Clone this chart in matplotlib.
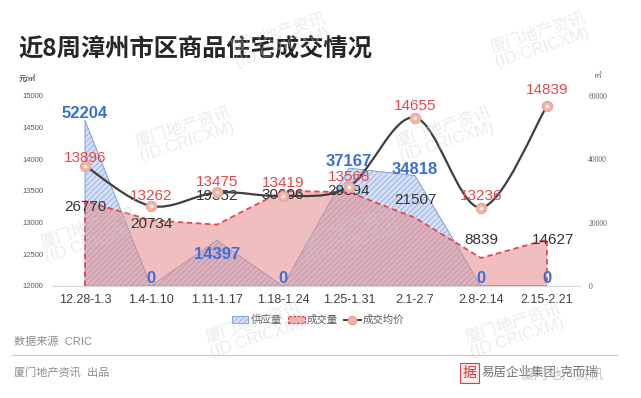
import numpy as np
import matplotlib
matplotlib.use("Agg")
import matplotlib.pyplot as plt
from matplotlib.path import Path
from matplotlib.patches import PathPatch, Patch, Rectangle
from matplotlib.lines import Line2D

plt.rcParams['font.family'] = ['Liberation Sans', 'Noto Sans CJK SC', 'DejaVu Sans']
plt.rcParams['hatch.linewidth'] = 0.4

# data
weeks = ['12.28-1.3', '1.4-1.10', '1.11-1.17', '1.18-1.24',
         '1.25-1.31', '2.1-2.7', '2.8-2.14', '2.15-2.21']
supply = [52204, 0, 14397, 0, 37167, 34818, 0, 0]
volume = [26770, 20734, 19352, 30006, 29594, 21507, 8839, 14627]
price = [13896, 13262, 13475, 13419, 13568, 14655, 13236, 14839]

# label nudges in pixels (positive = up)
supply_dy = [2, 3, -19, 3, 2, 2, 3, 3]
volume_dy = [-6, -4, 29, -4, 1, 18, 18, 0]
volume_dx = [0, 0, 0, 0, 0, 0, 0, 6]
price_dy = [4, 6, 6, 9, 6, 8, 8, 12]

PX = 0.72  # points per pixel at dpi 100

blue = '#3b6fd4'
red = '#e8484a'
grey_txt = '#595959'

fig = plt.figure(figsize=(6.41, 3.98), dpi=100)

ax2 = fig.add_axes([52 / 641, 1 - 286 / 398, 528 / 641, 190.3 / 398])
ax = ax2.twinx()
ax2.patch.set_visible(False)
ax.patch.set_visible(False)

x = np.arange(len(weeks))

# areas on the right axis
ax2.fill_between(x, supply, 0, facecolor='#d5e0f5', edgecolor='#6f95dc',
                 hatch='//////', linewidth=0.6, zorder=2)
ax2.fill_between(x, volume, 0, facecolor='#e58a8a', alpha=0.55, linewidth=0, zorder=3)
ax2.plot(np.r_[x[0], x, x[-1]], np.r_[0, volume, 0], color=red, lw=1.3,
         ls=(0, (3, 2)), zorder=4)

# smooth price line on the left axis (Bezier through the points)
p = np.column_stack([x, price]).astype(float)
verts = [tuple(p[0])]
codes = [Path.MOVETO]
n = len(p)
for i in range(n - 1):
    pm = p[i - 1] if i > 0 else p[i]
    pn = p[i + 2] if i + 2 < n else p[i + 1]
    c1 = p[i] + (p[i + 1] - pm) / 6
    c2 = p[i + 1] - (pn - p[i]) / 6
    verts += [tuple(c1), tuple(c2), tuple(p[i + 1])]
    codes += [Path.CURVE4] * 3
ax.add_patch(PathPatch(Path(verts, codes), facecolor='none', edgecolor='#3f3f3f',
                       lw=1.6, zorder=5))
ax.plot(x, price, ls='none', marker='o', ms=7.4, mfc='#efb5a6', mec='#e7a393',
        mew=0.8, zorder=6)
ax.plot(x, price, ls='none', marker='o', ms=2.4, mfc='white', mec='none', zorder=7)

ax.set_ylim(12000, 15000)
ax2.set_ylim(0, 60000)
ax.set_xlim(-0.5, 7.5)
ax2.set_xlim(-0.5, 7.5)

# data labels
for i in range(n):
    ax2.annotate(f'{supply[i]}', (x[i], supply[i]), xytext=(0, supply_dy[i] * PX),
                 textcoords='offset points', ha='center', va='baseline',
                 fontsize=12, fontweight='bold', color=blue, zorder=8)
    ax2.annotate(f'{volume[i]}', (x[i], volume[i]),
                 xytext=(volume_dx[i] * PX, volume_dy[i] * PX),
                 textcoords='offset points', ha='center', va='center',
                 fontsize=11, color='#333333', zorder=8)
    ax.annotate(f'{price[i]}', (x[i], price[i]), xytext=(0, price_dy[i] * PX),
                textcoords='offset points', ha='center', va='baseline',
                fontsize=11, color=red, zorder=9)

# axes styling
ax.yaxis.tick_left()
ax.yaxis.set_label_position('left')
ax2.yaxis.tick_right()
ax.set_yticks(np.arange(12000, 15001, 500))
ax2.set_yticks(np.arange(0, 60001, 20000))
ax.tick_params(axis='y', length=0, labelsize=5.5, labelcolor=grey_txt, pad=6)
ax2.tick_params(axis='y', length=0, labelsize=5.5, labelcolor=grey_txt, pad=6)
for t in ax2.get_yticklabels():
    t.set_fontfamily('Liberation Serif')
ax2.set_xticks(x)
ax2.set_xticklabels(weeks)
ax2.tick_params(axis='x', length=0, labelsize=9, labelcolor='#404040', pad=6)
ax.tick_params(axis='x', bottom=False, labelbottom=False)
for a in (ax, ax2):
    for s in ('top', 'left', 'right'):
        a.spines[s].set_visible(False)
    a.spines['bottom'].set_color('#d9d9d9')
ax.spines['bottom'].set_visible(False)

fig.text(27 / 641, 1 - 79 / 398, '元/㎡', fontsize=5.5, color=grey_txt,
         ha='center', va='center', fontweight='bold')
fig.text(598 / 641, 1 - 76 / 398, '㎡', fontsize=5.5, color=grey_txt,
         ha='center', va='center')

# legend
handles = [
    Patch(facecolor='#d5e0f5', edgecolor='#6f95dc', hatch='//////', lw=0.6),
    Patch(facecolor='#f0b0b0', edgecolor=red, ls=(0, (2, 1)), lw=1.0),
    Line2D([0], [0], color='#3f3f3f', lw=1.4, marker='o', ms=6, mfc='#efb5a6',
           mec='#e7a393'),
]
leg = fig.legend(handles, ['供应量', '成交量', '成交均价'], loc='center',
                 bbox_to_anchor=(318 / 641, 1 - 320 / 398), ncol=3, frameon=False,
                 fontsize=7.5, handlelength=1.6, handleheight=0.6,
                 handletextpad=0.2, columnspacing=0.6)
for t in leg.get_texts():
    t.set_color(grey_txt)

# title and footer
fig.text(18 / 641, 1 - 49 / 398, '近8周漳州市区商品住宅成交情况', fontsize=17.5,
         fontweight='bold', color='#262626', ha='left', va='center',
         family=['Noto Sans CJK SC', 'DejaVu Sans'])
fig.text(14 / 641, 1 - 342 / 398, '数据来源  CRIC', fontsize=8, color='#8c8c8c',
         ha='left', va='center')
fig.add_artist(Line2D([12 / 641, 617 / 641], [1 - 355 / 398] * 2, color='#c8c8c8',
                      lw=0.8, transform=fig.transFigure))
fig.text(14 / 641, 1 - 372 / 398, '厦门地产资讯  出品', fontsize=8, color='#8c8c8c',
         ha='left', va='center')
fig.add_artist(Rectangle((460 / 641, 1 - 383 / 398), 19 / 641, 20 / 398,
                         transform=fig.transFigure, facecolor='#fbeaea',
                         edgecolor='#d94040', lw=0.8))
fig.text(469.5 / 641, 1 - 373 / 398, '据', fontsize=10, color='#d03a3a',
         ha='center', va='center')
fig.text(482 / 641, 1 - 373 / 398, '易居企业集团·克而瑞', fontsize=9, color='#707070',
         ha='left', va='center')
fig.text(520 / 641, 1 - 374 / 398, '厦门地产资讯', fontsize=10, color='#b0b0b0',
         ha='left', va='center', alpha=0.7)

# faint watermark over everything
for wx, wy in [(280, 40), (540, 40), (185, 134), (445, 134),
               (90, 235), (350, 235), (255, 330), (515, 330)]:
    fig.text(wx / 641, 1 - wy / 398, '厦门地产资讯\n(ID:CRICXM)', fontsize=12,
             color='#cfcfcf', alpha=0.4, rotation=18, ha='center', va='center',
             linespacing=1.1, zorder=20)

fig.savefig('out.png', dpi=100)
